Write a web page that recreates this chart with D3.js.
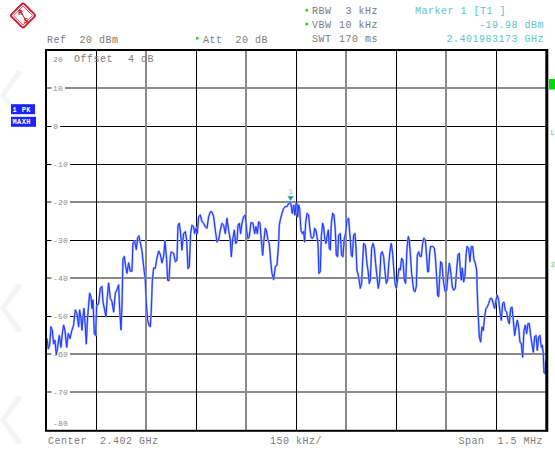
<!DOCTYPE html>
<html>
<head>
<meta charset="utf-8">
<script src="https://cdn.jsdelivr.net/npm/d3@7"></script>
<style>
  html, body { margin: 0; padding: 0; background: #fff; }
  svg { display: block; }
  text { font-family: "Liberation Mono", "DejaVu Sans Mono", monospace; white-space: pre; }
</style>
</head>
<body>
<div id="chart"></div>
<script>
// ── Trace: frequency offset from centre (kHz) and level (dBm) ──
const freqKHz = [
  -748,-744,-740,-736,-732,-728,-724,-720,-716,-711,
  -706,-702,-698,-694,-689,-684,-679,-673,-668,-663,
  -658,-653,-650,-646,-643,-640,-637,-633,-630,-626,
  -620,-616,-613,-610,-606,-602,-599,-593,-588,-583,
  -580,-576,-571,-567,-563,-558,-553,-548,-543,-538,
  -533,-530,-526,-523,-520,-516,-512,-508,-503,-498,
  -493,-490,-485,-480,-476,-472,-468,-463,-458,-453,
  -450,-446,-442,-438,-435,-432,-428,-423,-418,-413,
  -408,-403,-398,-394,-389,-386,-382,-378,-375,-368,
  -363,-358,-355,-351,-347,-343,-338,-333,-329,-325,
  -321,-317,-313,-308,-305,-301,-297,-293,-288,-283,
  -278,-273,-268,-263,-258,-253,-248,-243,-238,-233,
  -228,-223,-218,-213,-208,-203,-198,-195,-191,-186,
  -182,-178,-175,-171,-167,-163,-158,-153,-149,-145,
  -141,-136,-130,-125,-121,-117,-113,-109,-105,-101,
   -97, -93, -90, -85, -81, -77, -73, -68, -63, -58,
   -53, -51, -48, -43, -38, -33, -28, -23, -19, -17,
   -12,  -8,  -4,  -1,   2,   4,   7,  10,  14,  18,
    22,  25,  28,  32,  37,  40,  44,  48,  52,  55,
    59,  62,  65,  68,  72,  75,  79,  82,  86,  89,
    92,  96,  99, 102, 105, 109, 113, 117, 120, 124,
   127, 132, 136, 140, 144, 148, 152, 157, 162, 165,
   168, 172, 176, 179, 182, 187, 192, 196, 199, 202,
   207, 212, 215, 219, 222, 226, 230, 234, 238, 242,
   246, 250, 254, 258, 262, 266, 270, 274, 278, 282,
   285, 289, 292, 296, 300, 304, 308, 312, 316, 320,
   324, 328, 332, 336, 339, 342, 346, 352, 356, 360,
   363, 367, 371, 375, 379, 383, 387, 391, 394, 397,
   400, 403, 409, 414, 417, 421, 424, 427, 430, 433,
   437, 440, 443, 447, 451, 455, 459, 462, 465, 468,
   472, 477, 481, 485, 489, 492, 495, 498, 502, 506,
   509, 512, 517, 521, 525, 529, 533, 537, 541, 543,
   546, 549, 553, 557, 561, 565, 569, 573, 577, 582,
   587, 592, 595, 599, 603, 607, 611, 615, 619, 623,
   627, 631, 635, 639, 643, 647, 651, 655, 659, 663,
   667, 671, 675, 679, 683, 687, 691, 695, 699, 703,
   707, 711, 715, 719, 723, 727, 731, 735, 738, 741,
   743, 747, 749
];
const levelDbm = [
  -55.8,-58.5,-57.6,-52.7,-53.6,-57.2,-56.3,-60.0,-58.1,-55.0,
  -58.1,-54.5,-52.3,-53.6,-58.1,-54.5,-55.8,-53.6,-52.3,-48.3,
  -49.2,-52.7,-48.3,-50.5,-53.6,-50.1,-47.9,-52.7,-57.2,-50.1,
  -43.9,-44.8,-47.9,-45.7,-54.5,-55.0,-47.4,-46.5,-42.6,-42.1,
  -46.1,-47.9,-50.1,-44.8,-41.2,-45.2,-46.1,-48.8,-43.9,-43.0,
  -41.7,-47.9,-53.5,-47.4,-35.0,-34.2,-36.8,-38.6,-35.9,-38.1,
  -38.1,-30.6,-30.2,-32.4,-29.3,-28.8,-30.6,-32.8,-36.8,-40.4,
  -46.5,-51.0,-52.3,-52.7,-48.3,-40.8,-37.3,-37.3,-34.6,-32.8,
  -33.7,-35.9,-34.2,-30.2,-35.0,-40.5,-40.6,-34.3,-33.0,-33.4,
  -35.6,-35.2,-26.0,-25.5,-28.2,-32.5,-28.2,-27.7,-29.9,-37.4,
  -36.9,-28.2,-26.0,-26.4,-28.2,-26.8,-28.2,-23.8,-23.3,-25.1,
  -25.5,-26.4,-26.8,-23.8,-22.5,-22.5,-23.8,-27.3,-30.4,-29.9,
  -27.3,-25.5,-26.0,-28.2,-24.2,-27.3,-29.9,-34.3,-29.9,-27.3,
  -30.8,-30.4,-26.0,-25.5,-28.2,-25.5,-23.8,-23.3,-27.3,-29.5,
  -29.0,-25.3,-25.5,-28.2,-26.4,-28.2,-25.1,-25.5,-29.9,-33.9,
  -29.9,-26.8,-27.3,-29.9,-30.8,-35.2,-38.7,-40.3,-36.9,-36.5,
  -30.8,-26.0,-24.6,-22.9,-21.6,-21.1,-21.1,-20.3,-20.1,-19.98,
  -22.9,-20.7,-23.3,-20.3,-20.3,-23.8,-20.7,-21.6,-27.3,-28.2,
  -27.7,-30.4,-25.5,-22.9,-23.3,-26.4,-29.0,-29.5,-29.0,-26.8,
  -27.3,-29.0,-30.8,-38.7,-38.2,-29.0,-25.5,-26.4,-29.9,-30.8,
  -29.0,-27.3,-32.1,-32.5,-25.5,-22.9,-23.3,-27.3,-33.9,-34.3,
  -28.6,-28.2,-33.9,-34.3,-29.5,-28.2,-24.6,-24.2,-29.9,-33.9,
  -34.3,-28.6,-28.2,-31.7,-37.8,-39.6,-42.6,-41.3,-35.6,-30.8,
  -31.2,-36.1,-37.8,-41.3,-40.4,-32.1,-30.8,-32.1,-36.1,-39.6,
  -42.6,-40.4,-33.4,-33.0,-34.3,-38.2,-41.3,-40.4,-35.6,-32.1,
  -30.8,-33.4,-36.9,-41.3,-42.6,-40.4,-37.4,-37.8,-34.7,-35.2,
  -40.4,-41.3,-32.1,-29.0,-29.9,-33.4,-38.7,-43.1,-43.5,-42.2,
  -33.9,-33.0,-34.2,-34.2,-30.7,-29.4,-29.8,-34.2,-38.2,-38.2,
  -33.4,-31.6,-31.6,-32.0,-34.2,-39.5,-44.4,-44.8,-40.0,-35.6,
  -36.0,-39.5,-41.7,-43.5,-43.1,-39.1,-36.0,-37.3,-40.0,-42.2,
  -43.1,-42.6,-37.8,-33.8,-33.4,-37.8,-40.4,-37.3,-40.9,-39.5,
  -34.2,-31.6,-32.0,-35.6,-31.6,-31.6,-35.1,-36.0,-37.8,-43.9,
  -50.1,-55.4,-56.7,-52.8,-53.7,-50.1,-47.9,-47.5,-46.6,-45.3,
  -45.3,-47.0,-47.9,-45.7,-44.4,-45.7,-48.8,-51.0,-46.6,-46.2,
  -48.4,-48.8,-51.0,-51.9,-47.9,-47.5,-51.0,-55.0,-52.8,-51.0,
  -52.8,-56.7,-57.2,-60.7,-53.7,-52.3,-54.5,-51.9,-51.9,-55.0,
  -57.2,-59.4,-55.4,-55.0,-58.9,-55.4,-55.0,-58.1,-57.6,-59.8,
  -64.7,-65.1,-61.6
];

const yTicks   = [20, 10, 0, -10, -20, -30, -40, -50, -60, -70, -80];
const xGrid    = [-600, -450, -300, -150, 0, 150, 300, 450, 600];
const marker   = { f: -17, l: -19.98, label: "1" };

const headerLeft  = [["Ref  20 dBm", 47], ["Att  20 dB", 203]];
const settings    = [["RBW", "3 kHz"], ["VBW", "10 kHz"], ["SWT", "170 ms"]];
const markerInfo  = ["Marker 1 [T1 ]", "-19.98 dBm", "2.401983173 GHz"];
const footer      = ["Center  2.402 GHz", "150 kHz/", "Span  1.5 MHz"];
const sideFlags   = [["L", 135], ["3", 267]];

// ── Layout ──
const W = 555, H = 452;
const PL = 46.3, PR = 546.3, PT = 50.3, PB = 430.5;
const GRAY = "#7b7b7b", TEAL = "#5ec4cc", GREEN = "#1bd81b";

const x = d3.scaleLinear().domain([-750, 750]).range([PL, PR]);
const y = d3.scaleLinear().domain([-80, 20]).range([PB, PT]);

const svg = d3.select("#chart").append("svg")
  .attr("width", W).attr("height", H)
  .style("background", "#fff");

// faint watermark chevrons at the left edge
svg.append("g").attr("fill", "none").attr("stroke", "#f4f4f4").attr("stroke-width", 5)
  .selectAll("path").data([95, 308, 420]).join("path")
  .attr("d", c => `M20,${c - 24}L3,${c}L20,${c + 24}`);

// R&S logo
const logo = svg.append("g").attr("transform", "translate(23,15.5)");
logo.append("rect").attr("x", -9).attr("y", -9).attr("width", 18).attr("height", 18)
  .attr("rx", 2).attr("transform", "rotate(45)")
  .attr("fill", "#fff").attr("stroke", "#cc2233").attr("stroke-width", 2);
logo.append("rect").attr("x", -6.6).attr("y", -6.6).attr("width", 13.2).attr("height", 13.2)
  .attr("transform", "rotate(45)")
  .attr("fill", "none").attr("stroke", "#cc2233").attr("stroke-width", 0.8);
logo.append("line").attr("x1", -7).attr("y1", -2).attr("x2", 7).attr("y2", 2)
  .attr("transform", "rotate(45)").attr("stroke", "#cc2233").attr("stroke-width", 1);
logo.append("text").attr("x", -5).attr("y", -1).text("R")
  .attr("font-size", 8).attr("font-weight", "bold").attr("fill", "#cc2233");
logo.append("text").attr("x", 0.5).attr("y", 7.5).text("S")
  .attr("font-size", 8).attr("font-weight", "bold").attr("fill", "#cc2233");

// ── Header text ──
const hdr = svg.append("g").attr("font-size", 10).attr("letter-spacing", 0.5).attr("fill", GRAY);
headerLeft.forEach(([t, px]) => hdr.append("text").attr("x", px).attr("y", 42.5).text(t));
svg.append("rect").attr("x", 196).attr("y", 37).attr("width", 2.5).attr("height", 2.5).attr("fill", GREEN);

settings.forEach(([k, v], i) => {
  const by = 14 + i * 13.8;
  hdr.append("text").attr("x", 312).attr("y", by).text(k);
  hdr.append("text").attr("x", 378).attr("y", by).attr("text-anchor", "end").text(v);
  if (i < 2) svg.append("rect").attr("x", 305.5).attr("y", by - 5).attr("width", 2.5).attr("height", 2.5).attr("fill", GREEN);
});

const mk = svg.append("g").attr("font-size", 10).attr("letter-spacing", 0.5).attr("fill", TEAL);
mk.append("text").attr("x", 415).attr("y", 14).text(markerInfo[0]);
mk.append("text").attr("x", 544).attr("y", 27.8).attr("text-anchor", "end").text(markerInfo[1]);
mk.append("text").attr("x", 544).attr("y", 41.6).attr("text-anchor", "end").text(markerInfo[2]);

// ── Footer text ──
const ft = svg.append("g").attr("font-size", 10).attr("letter-spacing", 0.5).attr("fill", GRAY);
ft.append("text").attr("x", 48).attr("y", 444).text(footer[0]);
ft.append("text").attr("x", 296).attr("y", 444).attr("text-anchor", "middle").text(footer[1]);
ft.append("text").attr("x", 543).attr("y", 444).attr("text-anchor", "end").text(footer[2]);

// ── Grid ──
const grid = svg.append("g");
const grayH = new Set([10, -20, -40, -60, -70]);
yTicks.filter(v => v > -80 && v < 20).forEach(v => {
  const g = grayH.has(v);
  const yy = g ? Math.round(y(v)) : Math.floor(y(v)) + 0.5;
  grid.append("line").attr("x1", PL).attr("x2", PR).attr("y1", yy).attr("y2", yy)
    .attr("stroke", g ? "#8a8a8a" : "#000").attr("stroke-width", g ? 2 : 1);
});
xGrid.forEach((v, i) => {
  const g = i % 2 === 1;
  const xx = g ? Math.round(x(v)) : Math.floor(x(v)) + 0.5;
  grid.append("line").attr("y1", PT).attr("y2", PB).attr("x1", xx).attr("x2", xx)
    .attr("stroke", g ? "#8a8a8a" : "#000").attr("stroke-width", g ? 2 : 1);
});

// y labels with white knock-out
const yl = svg.append("g").attr("font-size", 8).attr("letter-spacing", 0.2).attr("fill", "#8a8a8a");
yTicks.forEach(v => {
  const by = v === 20 ? 62 : v === -80 ? 426 : y(v) + 3;
  const t = yl.append("text").attr("x", 53).attr("y", by).text(String(v));
  if (v !== 20 && v !== -80) {
    const len = t.node().getComputedTextLength();
    yl.insert("rect", "text").attr("x", 51.5).attr("y", y(v) - 4).attr("width", len + 3.5).attr("height", 8).attr("fill", "#fff");
  }
});
yl.append("text").attr("x", 74).attr("y", 62).attr("font-size", 10).attr("letter-spacing", 0.5).attr("fill", GRAY).text("Offset");
yl.append("text").attr("x", 128).attr("y", 62).attr("font-size", 10).attr("letter-spacing", 0.5).attr("fill", GRAY).text("4 dB");

// ── Trace ──
const trace = freqKHz.map((f, i) => ({ f, l: levelDbm[i] }));
svg.append("clipPath").attr("id", "plot").append("rect")
  .attr("x", PL).attr("y", PT).attr("width", PR - PL).attr("height", PB - PT);
const line = d3.line().x(d => x(d.f)).y(d => y(d.l));
const tg = svg.append("g").attr("clip-path", "url(#plot)");
tg.append("path").datum(trace).attr("d", line)
  .attr("fill", "none").attr("stroke", "#9aa8ff").attr("stroke-width", 2.1).attr("stroke-linejoin", "round");
tg.append("path").datum(trace).attr("d", line)
  .attr("fill", "none").attr("stroke", "#1a36ff").attr("stroke-width", 1).attr("stroke-linejoin", "round");

// marker
const mx = x(marker.f), my = y(marker.l);
svg.append("path").attr("d", `M${mx - 3.2},${my - 6}L${mx + 3.2},${my - 6}L${mx},${my - 1.5}Z`).attr("fill", "#1a9c9c");
svg.append("text").attr("x", mx).attr("y", my - 8).attr("text-anchor", "middle")
  .attr("font-size", 7).attr("fill", "#6fcaca").text(marker.label);

// ── Frame ──
svg.append("rect").attr("x", PL - 0.3).attr("y", PT - 0.3).attr("width", PR - PL + 0.6).attr("height", PB - PT + 0.6)
  .attr("fill", "none").attr("stroke", "#000").attr("stroke-width", 2);
svg.append("line").attr("x1", PR + 0.6).attr("x2", PR + 0.6).attr("y1", PT - 1.3).attr("y2", PB + 1.3)
  .attr("stroke", "#000").attr("stroke-width", 2.8);

// ── Side annotations ──
const box = svg.append("g").attr("font-size", 7).attr("font-weight", "bold").attr("fill", "#fff");
[["1 PK", 104.2, 24], ["MAXH", 116.8, 25]].forEach(([t, by, w]) => {
  box.append("rect").attr("x", 11).attr("y", by).attr("width", w).attr("height", 10).attr("fill", "#1e22ff");
  box.append("text").attr("x", 12.5).attr("y", by + 7.5).attr("letter-spacing", 0.4).text(t);
});
svg.append("rect").attr("x", 549).attr("y", 79).attr("width", 6).attr("height", 10.5).attr("fill", "#00dd00");
const side = svg.append("g").attr("font-size", 7).attr("fill", GREEN);
sideFlags.forEach(([t, by]) => side.append("text").attr("x", 550.5).attr("y", by).text(t));
</script>
</body>
</html>
